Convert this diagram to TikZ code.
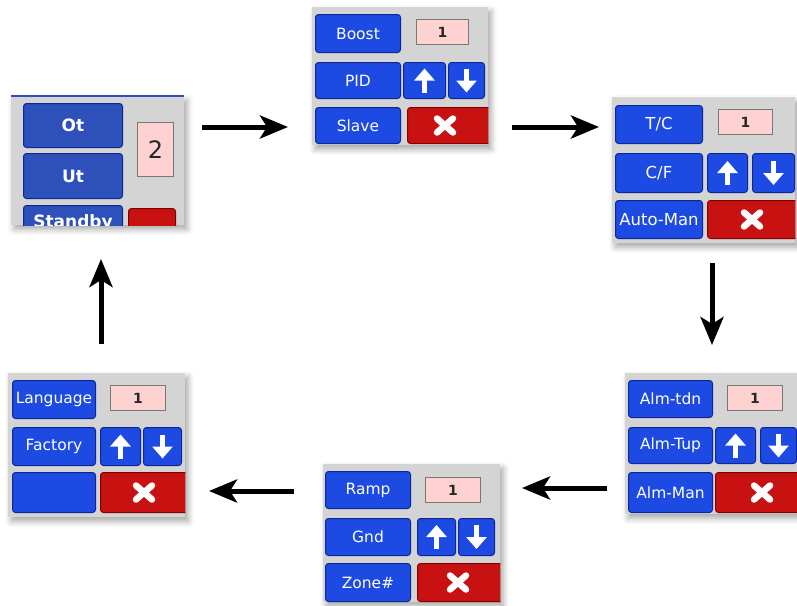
\documentclass[tikz,border=0pt]{standalone}
\usepackage{fontspec}
\setmainfont{DejaVu Sans}
\usetikzlibrary{positioning,calc,arrows.meta,shadows.blur}

\definecolor{panelgray}{RGB}{212,212,212}
\definecolor{btnblue}{RGB}{28,74,226}
\definecolor{btnedge}{RGB}{12,40,150}
\definecolor{oldblue}{RGB}{46,80,186}
\definecolor{stopred}{RGB}{200,18,18}
\definecolor{stopedge}{RGB}{130,0,0}
\definecolor{boxpink}{RGB}{255,210,210}
\definecolor{boxedge}{RGB}{120,120,120}

\begin{document}
\begin{tikzpicture}[x=1pt,y=-1pt]
            \tikzstyle{panel}=[anchor=north west, fill=panelgray, inner sep=0pt,
            blur shadow={shadow xshift=3pt, shadow yshift=-4pt,
            shadow blur radius=6pt, shadow opacity=35}]
            \tikzstyle{btn}=[anchor=north west, fill=btnblue, draw=btnedge,
            rounded corners=3pt, line width=1pt, text=white, inner sep=0pt,
            font=\fontsize{15.5}{17}\selectfont]
            \tikzstyle{cancel}=[btn, fill=stopred, draw=stopedge]
            \tikzstyle{num}=[anchor=north west, fill=boxpink, draw=boxedge,
            line width=1pt, inner sep=0pt, text=black!85,
            font=\bfseries\fontsize{14}{16}\selectfont]
            \tikzstyle{updn}=[white, line width=5.5pt, -{Triangle[length=12pt,width=20pt]}]
            \tikzstyle{xmark}=[white, line width=6.5pt, line cap=round]
            \tikzstyle{flow}=[line width=5pt, -{Stealth[length=28pt,width=23pt,inset=7pt]}]

            \useasboundingbox (0,0) rectangle (797,605);

            % Ot / Ut / Standby
            \node[panel, minimum width=173pt, minimum height=129pt] (pOt) at (11,96) {};
            \draw[oldblue, line width=2pt] (pOt.north west) -- (pOt.north east);
            \begin{scope}
            \clip (pOt.north west) rectangle (pOt.south east);
            \tikzstyle{oldbtn}=[btn, fill=oldblue, font=\bfseries\fontsize{17}{19}\selectfont]
            \node[oldbtn, minimum width=99pt, minimum height=44pt] (ot) at (23,103) {Ot};
            \node[oldbtn, minimum width=99pt, minimum height=45pt] (ut) at (23,153) {Ut};
            \node[oldbtn, minimum width=99pt, minimum height=34pt] (standby) at (23,205) {Standby};
            \node[num, minimum width=36pt, minimum height=54pt,
            font=\fontsize{24}{26}\selectfont] (zones) at (137,122) {2};
            \node[cancel, minimum width=47pt, minimum height=30pt] (ax) at (128,208) {};
            \end{scope}

            % Boost / PID / Slave
            \node[panel, minimum width=176pt, minimum height=138pt] (pBoost) at (312,7) {};
            \begin{scope}
            \clip (pBoost.north west) rectangle (pBoost.south east);
            \node[btn, minimum width=85pt, minimum height=38pt] (boost) at (315,14) {Boost};
            \node[num, minimum width=52pt, minimum height=25pt] (bn) at (416,19) {1};
            \node[btn, minimum width=85pt, minimum height=36pt] (pid) at (315,62) {PID};
            \node[btn, minimum width=42pt, minimum height=36pt] (bu) at (403,62) {};
            \node[btn, minimum width=36pt, minimum height=36pt] (bd) at (448,62) {};
            \node[btn, minimum width=85pt, minimum height=36pt] (slave) at (315,107) {Slave};
            \node[cancel, minimum width=90pt, minimum height=36pt] (bx) at (407,107) {};
            \end{scope}

            % T/C / C/F / Auto-Man
            \node[panel, minimum width=183pt, minimum height=146pt] (pTC) at (612,97) {};
            \begin{scope}
            \clip (pTC.north west) rectangle (pTC.south east);
            \tikzstyle{wide}=[btn, font=\fontsize{16.5}{18}\selectfont]
            \node[wide, minimum width=87pt, minimum height=38pt] (tc) at (615,105) {T/C};
            \node[num, minimum width=54pt, minimum height=25pt] (cn) at (718,109) {1};
            \node[wide, minimum width=87pt, minimum height=39pt] (cf) at (615,153) {C/F};
            \node[btn, minimum width=40pt, minimum height=39pt] (cu) at (707,153) {};
            \node[btn, minimum width=42pt, minimum height=39pt] (cd) at (752,153) {};
            \node[wide, minimum width=87pt, minimum height=38pt] (automan) at (615,200) {Auto-Man};
            \node[cancel, minimum width=95pt, minimum height=38pt] (cx) at (707,200) {};
            \end{scope}

            % Alm-tdn / Alm-Tup / Alm-Man
            \node[panel, minimum width=172pt, minimum height=141pt] (pAlm) at (625,373) {};
            \begin{scope}
            \clip (pAlm.north west) rectangle (pAlm.south east);
            \node[btn, minimum width=84pt, minimum height=37pt] (almtdn) at (628,380) {Alm-tdn};
            \node[num, minimum width=55pt, minimum height=25pt] (dn) at (727,385) {1};
            \node[btn, minimum width=84pt, minimum height=36pt] (almtup) at (628,427) {Alm-Tup};
            \node[btn, minimum width=40pt, minimum height=36pt] (du) at (715,427) {};
            \node[btn, minimum width=36pt, minimum height=36pt] (dd) at (760,427) {};
            \node[btn, minimum width=84pt, minimum height=40pt] (almman) at (628,472) {Alm-Man};
            \node[cancel, minimum width=90pt, minimum height=40pt] (dx) at (715,472) {};
            \end{scope}

            % Ramp / Gnd / Zone#
            \node[panel, minimum width=177pt, minimum height=138pt] (pRamp) at (323,464) {};
            \begin{scope}
            \clip (pRamp.north west) rectangle (pRamp.south east);
            \node[btn, minimum width=85pt, minimum height=37pt] (ramp) at (325,471) {Ramp};
            \node[num, minimum width=55pt, minimum height=25pt] (en) at (425,477) {1};
            \node[btn, minimum width=85pt, minimum height=37pt] (gnd) at (325,518) {Gnd};
            \node[btn, minimum width=38pt, minimum height=37pt] (eu) at (417,518) {};
            \node[btn, minimum width=36pt, minimum height=37pt] (ed) at (458,518) {};
            \node[btn, minimum width=85pt, minimum height=38pt] (zone) at (325,563) {Zone\#};
            \node[cancel, minimum width=90pt, minimum height=38pt] (ex) at (417,563) {};
            \end{scope}

            % Language / Factory
            \node[panel, minimum width=177pt, minimum height=144pt] (pLang) at (8,373) {};
            \begin{scope}
            \clip (pLang.north west) rectangle (pLang.south east);
            \node[btn, minimum width=83pt, minimum height=38pt] (language) at (12,380) {Language};
            \node[num, minimum width=55pt, minimum height=25pt] (fn) at (110,385) {1};
            \node[btn, minimum width=83pt, minimum height=38pt] (factory) at (12,427) {Factory};
            \node[btn, minimum width=40pt, minimum height=38pt] (fu) at (100,427) {};
            \node[btn, minimum width=38pt, minimum height=38pt] (fd) at (143,427) {};
            \node[btn, minimum width=83pt, minimum height=40pt] (blank) at (12,472) {};
            \node[cancel, minimum width=90pt, minimum height=40pt] (fx) at (100,472) {};
            \end{scope}

            % up / down icons
            \foreach \b in {bu,cu,du,eu,fu}
                \draw[updn] ($(\b.center)+(0,12)$) -- ($(\b.center)+(0,-12)$);
            \foreach \b in {bd,cd,dd,ed,fd}
                \draw[updn] ($(\b.center)+(0,-12)$) -- ($(\b.center)+(0,12)$);

            % cancel crosses
            \foreach \b/\d in {bx/38,cx/45,dx/47,ex/41,fx/44} {
                \coordinate (c) at ($(\b.west)+(\d,0)$);
                \draw[xmark] ($(c)+(-8,-7)$) -- ($(c)+(8,7)$);
                \draw[xmark] ($(c)+(-8,7)$) -- ($(c)+(8,-7)$);
            }

            % flow between the screens
            \coordinate (ab1) at (202,127);
            \coordinate (ab2) at (288,127);
            \coordinate (bc1) at (512,127);
            \coordinate (bc2) at (599,127);
            \coordinate (cd1) at (712,263);
            \coordinate (cd2) at (712,345);
            \coordinate (de1) at (607,488);
            \coordinate (de2) at (522,488);
            \coordinate (ef1) at (294,491);
            \coordinate (ef2) at (209,491);
            \coordinate (fa1) at (101,344);
            \coordinate (fa2) at (101,259);

            \path[flow] (ab1) edge (ab2) (bc1) edge (bc2) (cd1) edge (cd2)
                        (de1) edge (de2) (ef1) edge (ef2) (fa1) edge (fa2);
        \end{tikzpicture}
\end{document}
